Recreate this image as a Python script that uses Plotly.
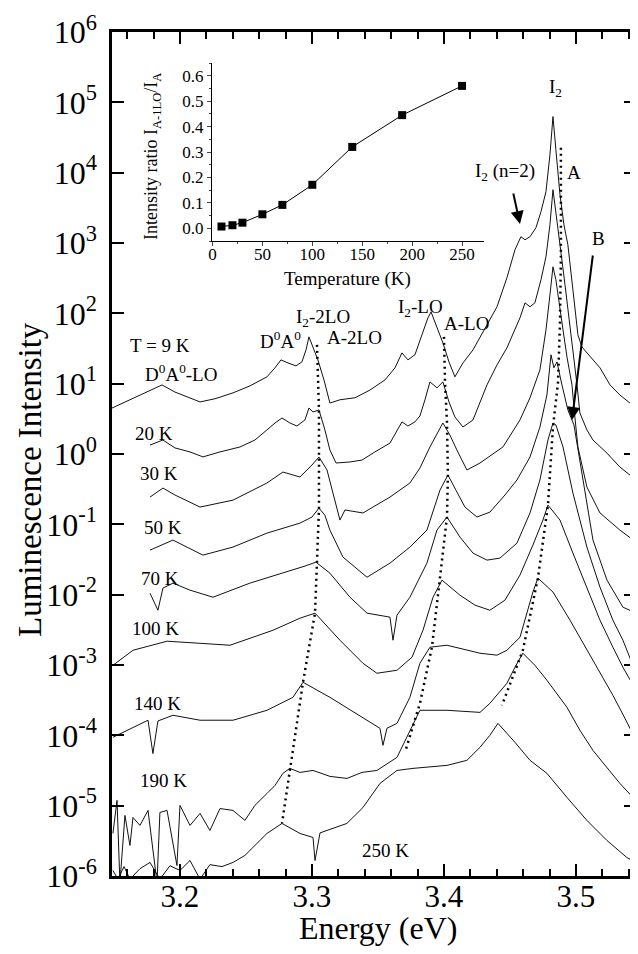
import plotly.graph_objects as go

# ---------------- spectra (energy in eV, luminescence intensity, a.u.) ----------------
E_9K = [3.1485,3.1583,3.1697,3.1811,3.1864,3.1962,3.2076,3.2152,3.2265,3.2402,3.2530,3.2659,3.2720,3.2765,3.2818,3.2879,3.2924,3.2955,3.2977,3.3000,3.3045,3.3091,3.3136,3.3212,3.3326,3.3439,3.3553,3.3629,3.3682,3.3727,3.3780,3.3833,3.3879,3.3902,3.3947,3.3992,3.4038,3.4083,3.4144,3.4220,3.4326,3.4402,3.4477,3.4538,3.4583,3.4614,3.4652,3.4697,3.4735,3.4773,3.4803,3.4826,3.4848,3.4879,3.4909,3.4939,3.4977,3.5015,3.5045,3.5106,3.5182,3.5258,3.5333,3.5409,3.5455]
I_9K = [4.5,5.5,6.9,8.7,9.6,7.6,6.3,5.5,6.1,7.4,9.3,12.5,16.8,21.8,19.7,17.9,20.4,30.2,46.3,35.6,21.8,11.3,5.3,5.9,6.3,8.1,11.3,16.8,27.4,21.8,25.7,49.4,86.3,105,62.2,38.0,20.4,12.5,19.7,30.2,68.6,124,320,802,1228,1112,1228,1648,2786,5370,1.8e4,6.27e4,2.12e4,4860,1820,944,216,49.4,33.3,24.8,16.8,9.6,6.9,5.3,4.5]

E_20K = [3.1773,3.1871,3.1962,3.2076,3.2174,3.2303,3.2455,3.2568,3.2659,3.2720,3.2773,3.2833,3.2886,3.2947,3.2977,3.3008,3.3053,3.3098,3.3136,3.3182,3.3288,3.3379,3.3477,3.3591,3.3682,3.3727,3.3780,3.3818,3.3856,3.3894,3.3947,3.3992,3.4038,3.4083,3.4144,3.4220,3.4326,3.4402,3.4477,3.4538,3.4576,3.4614,3.4652,3.4689,3.4735,3.4773,3.4803,3.4826,3.4848,3.4879,3.4917,3.4955,3.4985,3.5008,3.5030,3.5083,3.5129,3.5235,3.5333,3.5455]
I_20K = [1.34,1.58,1.22,1.07,0.91,1.07,1.26,1.58,2.2,2.76,3.25,2.76,2.5,3.05,4.5,3.96,4.23,2.2,1.14,0.745,0.77,0.82,1.07,1.43,2.86,2.5,2.86,3.47,5.9,10.6,8.7,10.6,5.5,3.36,2.42,3.05,9.6,18.5,32.3,58.2,86.3,141,124,141,300,637,1820,5730,2524,944,255,68.6,25.7,9.6,3.83,2.2,1.58,1.03,0.653,0.427]

E_30K = [3.1773,3.1871,3.1962,3.2152,3.2402,3.2659,3.2780,3.2909,3.3000,3.3053,3.3114,3.3189,3.3212,3.3250,3.3386,3.3591,3.3742,3.3818,3.3894,3.3992,3.4045,3.4098,3.4174,3.4273,3.4447,3.4576,3.4652,3.4727,3.4773,3.4803,3.4826,3.4848,3.4871,3.4902,3.4932,3.4970,3.4992,3.5015,3.5083,3.5182,3.5333,3.5455]
I_30K = [0.244,0.328,0.261,0.176,0.221,0.387,0.554,0.471,0.697,0.906,0.592,0.176,0.115,0.16,0.145,0.244,0.387,0.632,1.26,2.76,1.86,1.14,0.592,0.745,1.26,3.05,6.3,15.7,58.2,183,459,300,141,58.2,24,9.6,3.36,1.26,0.339,0.145,0.0828,0.0559]

E_50K = [3.1773,3.1947,3.2174,3.2402,3.2659,3.2909,3.3000,3.3053,3.3098,3.3136,3.3235,3.3417,3.3591,3.3742,3.3871,3.3970,3.4030,3.4083,3.4159,3.4250,3.4348,3.4462,3.4553,3.4652,3.4727,3.4780,3.4811,3.4833,3.4856,3.4894,3.4939,3.4985,3.5030,3.5083,3.5129,3.5235,3.5356,3.5455]
I_50K = [0.043,0.0597,0.0365,0.0475,0.075,0.104,0.127,0.17,0.135,0.0828,0.0342,0.0177,0.0281,0.0475,0.0828,0.307,0.502,0.328,0.176,0.127,0.149,0.261,0.427,0.906,2.42,6.9,25.7,16.8,20.4,9.6,4.23,2.59,0.82,0.188,0.0597,0.0161,0.00664,0.00546]

E_70K = [3.1773,3.1833,3.1871,3.1947,3.2076,3.2250,3.2530,3.2780,3.2947,3.3030,3.3136,3.3288,3.3417,3.3591,3.3614,3.3644,3.3742,3.3871,3.3947,3.4023,3.4121,3.4220,3.4326,3.4424,3.4553,3.4652,3.4727,3.4788,3.4826,3.4848,3.4902,3.4977,3.5083,3.5182,3.5280,3.5356,3.5455]
I_70K = [0.0105,0.00601,0.0124,0.0146,0.0116,0.0092,0.0146,0.0202,0.0255,0.029,0.0202,0.0092,0.00546,0.00479,0.00225,0.0051,0.0092,0.0281,0.0828,0.127,0.0659,0.039,0.031,0.0331,0.054,0.145,0.427,1.58,2.76,2.59,1.26,0.279,0.0475,0.0128,0.00434,0.00225,0.000763]

E_100K = [3.1492,3.1644,3.1902,3.2152,3.2379,3.2705,3.2909,3.3023,3.3212,3.3386,3.3492,3.3644,3.3758,3.3841,3.3917,3.3985,3.4121,3.4235,3.4348,3.4462,3.4576,3.4674,3.4750,3.4788,3.4879,3.4977,3.5083,3.5182,3.5280,3.5356,3.5455]
I_100K = [0.00099,0.00162,0.00218,0.00204,0.00191,0.00312,0.00463,0.00546,0.00225,0.00106,0.000763,0.000842,0.00129,0.00312,0.0092,0.0161,0.00984,0.0071,0.00601,0.00835,0.019,0.0507,0.115,0.188,0.115,0.039,0.0128,0.00434,0.00179,0.00093,0.000437]

E_140K = [3.1492,3.1644,3.1758,3.1795,3.1833,3.1947,3.2152,3.2402,3.2659,3.2856,3.2932,3.3136,3.3386,3.3515,3.3538,3.3568,3.3644,3.3742,3.3818,3.3894,3.4023,3.4273,3.4402,3.4477,3.4576,3.4636,3.4674,3.4712,3.4826,3.4955,3.5083,3.5182,3.5280,3.5371,3.5455]
I_140K = [9.37e-5,1.30e-4,1.64e-4,5.5e-5,1.6e-4,1.93e-4,1.64e-4,1.64e-4,2.27e-4,3.47e-4,5.68e-4,3.47e-4,1.80e-4,1.26e-4,7.2e-5,1.26e-4,1.48e-4,3.47e-4,1.06e-3,1.79e-3,1.91e-3,1.47e-3,1.38e-3,1.62e-3,2.48e-3,6.01e-3,1.09e-2,1.72e-2,1.09e-2,4.34e-3,1.62e-3,7.89e-4,3.71e-4,1.75e-4,8.5e-5]

E_190K = [3.1492,3.1523,3.1545,3.1583,3.1621,3.1644,3.1697,3.1758,3.1826,3.1848,3.1902,3.1977,3.2000,3.2076,3.2152,3.2227,3.2303,3.2402,3.2492,3.2568,3.2659,3.2720,3.2780,3.2833,3.2909,3.3008,3.3136,3.3265,3.3379,3.3492,3.3644,3.3742,3.3818,3.4023,3.4273,3.4348,3.4477,3.4538,3.4598,3.4689,3.4780,3.4932,3.5030,3.5129,3.5235,3.5333,3.5432]
I_190K = [4.03e-6,1.19e-5,8e-7,7.27e-6,2.72e-6,6.8e-6,5.24e-6,8.56e-6,8e-7,8.0e-6,8.56e-6,1.41e-6,1.01e-5,5.24e-6,7.76e-6,4.44e-6,9.1e-6,8.56e-6,6.17e-6,1.01e-5,1.49e-5,1.94e-5,2.88e-5,3.39e-5,2.97e-5,3.17e-5,2.61e-5,2.44e-5,2.97e-5,3.17e-5,4.86e-5,1.18e-4,2.27e-4,2.27e-4,2.12e-4,2.85e-4,5.5e-4,9.3e-4,1.47e-3,9.9e-4,6.07e-4,2.5e-4,1.18e-4,6.1e-5,3.5e-5,2.07e-5,1.31e-5]

E_250K = [3.1492,3.1530,3.1576,3.1621,3.1697,3.1773,3.1848,3.1924,3.2000,3.2076,3.2152,3.2227,3.2318,3.2402,3.2492,3.2583,3.2659,3.2773,3.2909,3.3008,3.3023,3.3061,3.3265,3.3386,3.3515,3.3644,3.3765,3.4023,3.4174,3.4273,3.4348,3.4409,3.4538,3.4652,3.4780,3.4932,3.5083,3.5235,3.5386,3.5455]
I_250K = [1.2e-6,9e-7,1.36e-6,9e-7,1.27e-6,1.56e-6,9e-7,1.4e-6,1.2e-6,1.66e-6,9e-7,1.45e-6,1.36e-6,1.56e-6,1.96e-6,2.9e-6,4.03e-6,5.59e-6,4.03e-6,3.53e-6,1.66e-6,4.1e-6,5.59e-6,9.4e-6,2.07e-5,3.17e-5,3.39e-5,3.74e-5,4.41e-5,6.75e-5,1.0e-4,1.48e-4,7.95e-5,4.41e-5,2.88e-5,1.31e-5,6.17e-6,3.2e-6,1.83e-6,1.56e-6]

# ---------------- dotted peak-tracking lines ----------------
E_A2LO = [3.3038,3.3053,3.3053,3.3053,3.3038,3.3023,3.2932,3.2833,3.2773]
I_A2LO = [35.6,4.23,0.906,0.17,0.029,0.00546,5.68e-4,3.39e-5,5.59e-6]
E_ALO = [3.4000,3.4008,3.4023,3.4030,3.4023,3.3970,3.3909,3.3818,3.3705]
I_ALO = [46.3,10.6,2.76,0.502,0.127,0.0161,0.00179,2.85e-4,5.73e-5]
E_A = [3.4886,3.4886,3.4886,3.4879,3.4864,3.4826,3.4788,3.4712,3.4598,3.4439]
I_A = [2.27e4,5730,637,73.3,10.3,2.42,0.188,0.0172,0.00162,2.67e-4]

# ---------------- inset ----------------
T_K = [9, 20, 30, 50, 70, 100, 140, 190, 250]
RATIO = [0.007, 0.012, 0.022, 0.055, 0.092, 0.171, 0.32, 0.445, 0.56]

Y_TICKS = [10.0 ** k for k in range(-6, 7)]
Y_TICKTEXT = ["10<sup>%d</sup>" % k for k in range(-6, 7)]
X_TICKS = [3.2, 3.3, 3.4, 3.5]
X_TICKTEXT = ["3.2", "3.3", "3.4", "3.5"]

SERIF = "Liberation Serif"

fig = go.Figure()
spectra = [(E_9K, I_9K), (E_20K, I_20K), (E_30K, I_30K), (E_50K, I_50K), (E_70K, I_70K),
           (E_100K, I_100K), (E_140K, I_140K), (E_190K, I_190K), (E_250K, I_250K)]
for ex, iy in spectra:
    fig.add_trace(go.Scatter(x=ex, y=iy, mode="lines", line=dict(color="#111111", width=1),
                             showlegend=False, hoverinfo="skip"))
for ex, iy in [(E_A2LO, I_A2LO), (E_ALO, I_ALO), (E_A, I_A)]:
    fig.add_trace(go.Scatter(x=ex, y=iy, mode="lines",
                             line=dict(color="black", width=2.5, dash="2px,4px"),
                             showlegend=False, hoverinfo="skip"))
fig.add_trace(go.Scatter(x=T_K, y=RATIO, mode="lines+markers", xaxis="x2", yaxis="y2",
                         line=dict(color="black", width=1),
                         marker=dict(symbol="square", size=8, color="black"),
                         showlegend=False))

# the page body adds an 8 px offset, so the figure is 8 px smaller and shifted
OFF = 8
W, H = 638 - OFF, 954 - OFF
L, T = 112 - OFF, 32 - OFF
R = 2
B = H - T - 844
PLOT_L, PLOT_B, PW, PH = 112, 876, 524, 844  # plot area in reference pixels


def px(x):
    return (x - PLOT_L) / PW


def py(y):
    return (PLOT_B - y) / PH


fig.update_layout(
    template="none",
    width=W, height=H, margin=dict(l=L, r=R, t=T, b=B, autoexpand=False),
    paper_bgcolor="white", plot_bgcolor="white",
    font=dict(family=SERIF, color="black"),
    xaxis=dict(range=[3.1485, 3.5455], showline=True, linewidth=2.5, linecolor="black",
               mirror="ticks", ticks="inside", ticklen=12, tickwidth=2, tickcolor="black",
               tickvals=X_TICKS, ticktext=X_TICKTEXT, tickfont=dict(size=31, family=SERIF),
               ticklabelstandoff=-9,
               minor=dict(ticks="inside", ticklen=7, tickwidth=2, dtick=0.02, tick0=3.2,
                          tickcolor="black"),
               showgrid=False, zeroline=False, automargin=False),
    yaxis=dict(type="log", range=[-6, 6], showline=True, linewidth=2.5, linecolor="black",
               mirror="ticks", ticks="inside", ticklen=12, tickwidth=2, tickcolor="black",
               tickvals=Y_TICKS, ticktext=Y_TICKTEXT, tickfont=dict(size=32, family=SERIF),
               ticklabelstandoff=6, showgrid=False, zeroline=False, automargin=False),
    xaxis2=dict(domain=[px(212), px(484)], anchor="y2", range=[-0.5, 272],
                showline=True, linewidth=1, linecolor="black", ticks="outside", ticklen=4,
                tickwidth=1, dtick=50, tick0=0, tickfont=dict(size=17, family=SERIF),
                ticklabelstandoff=-6,
                minor=dict(ticks="outside", ticklen=2, dtick=25, tickwidth=1),
                showgrid=False, zeroline=False, automargin=False),
    yaxis2=dict(domain=[py(241), py(63)], anchor="x2", range=[-0.05, 0.65],
                showline=True, linewidth=1, linecolor="black", ticks="outside", ticklen=4,
                tickwidth=1, dtick=0.1, tick0=0, tickformat=".1f",
                tickfont=dict(size=17, family=SERIF),
                minor=dict(ticks="outside", ticklen=2, dtick=0.05, tickwidth=1),
                showgrid=False, zeroline=False, automargin=False),
)

ann = []


def text(x, y, s, size=19, angle=0):
    ann.append(dict(x=px(x), y=py(y), xref="paper", yref="paper", text=s, showarrow=False,
                    font=dict(size=size, family=SERIF, color="black"),
                    xanchor="center", yanchor="middle", textangle=angle))


text(378, 928, "Energy (eV)", size=32)
text(30, 480, "Luminescence Intensity", size=33, angle=-90)
text(347, 279, "Temperature (K)", size=19)
text(152, 157, "Intensity ratio I<sub>A-1LO</sub>/I<sub>A</sub>", size=18, angle=-90)

text(555, 88, "I<sub>2</sub>")
text(574, 172, "A")
text(598, 238, "B")
text(505, 172, "I<sub>2</sub> (n=2)")
text(160, 345, "T = 9 K")
text(181, 373, "D<sup>0</sup>A<sup>0</sup>-LO")
text(280, 340, "D<sup>0</sup>A<sup>0</sup>")
text(323, 318, "I<sub>2</sub>-2LO")
text(354, 337, "A-2LO")
text(420, 308, "I<sub>2</sub>-LO")
text(466, 323, "A-LO")
for lbl, (x, y) in [("20 K", (154, 433)), ("30 K", (159, 473)), ("50 K", (163, 527)),
                    ("70 K", (160, 578)), ("100 K", (155, 628)), ("140 K", (157, 703)),
                    ("190 K", (163, 780)), ("250 K", (385, 850))]:
    text(x, y, lbl)

# arrows
ann.append(dict(x=px(572), y=py(420), xref="paper", yref="paper", ax=21, ay=-166,
                text="", showarrow=True, arrowhead=2, arrowsize=1.3, arrowwidth=2,
                arrowcolor="black"))
ann.append(dict(x=px(520), y=py(224), xref="paper", yref="paper", ax=-7, ay=-32,
                text="", showarrow=True, arrowhead=2, arrowsize=1.3, arrowwidth=2,
                arrowcolor="black"))

fig.update_layout(annotations=ann)
fig.write_html("out.html")
